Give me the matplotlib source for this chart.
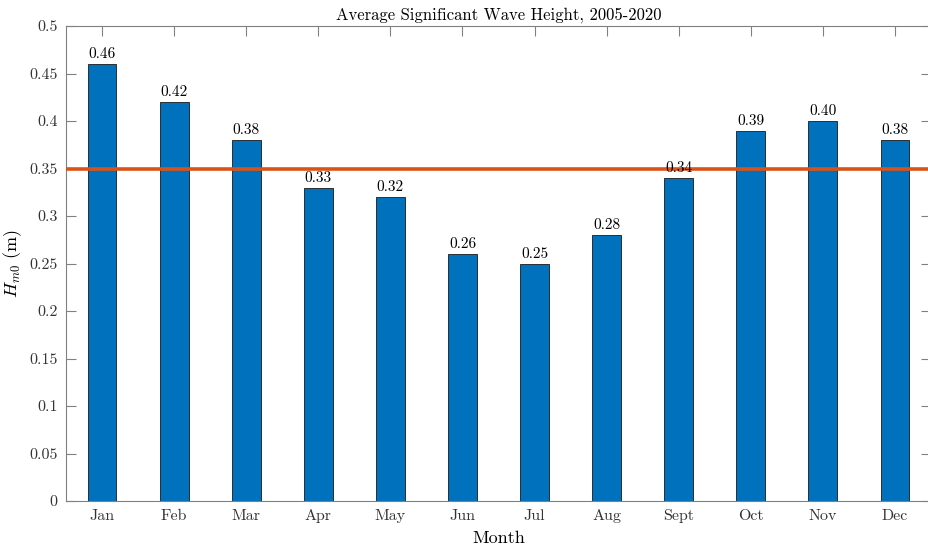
import matplotlib
matplotlib.use("Agg")
import matplotlib.pyplot as plt
import numpy as np

months = ["Jan", "Feb", "Mar", "Apr", "May", "Jun", "Jul", "Aug", "Sept", "Oct", "Nov", "Dec"]
hm0 = [0.46, 0.42, 0.38, 0.33, 0.32, 0.26, 0.25, 0.28, 0.34, 0.39, 0.40, 0.38]
mean_line = 0.35
yticks = [0, 0.05, 0.1, 0.15, 0.2, 0.25, 0.3, 0.35, 0.4, 0.45, 0.5]
ytick_labels = ["0", "0.05", "0.1", "0.15", "0.2", "0.25", "0.3", "0.35", "0.4", "0.45", "0.5"]

plt.rcParams["font.family"] = "serif"
plt.rcParams["font.serif"] = ["cmr10", "DejaVu Serif"]
plt.rcParams["mathtext.fontset"] = "cm"
plt.rcParams["axes.formatter.use_mathtext"] = True

W, H = 929, 547
fig = plt.figure(figsize=(W / 100, H / 100), dpi=100)
l, r, b, t = 66 / W, 931 / W, 1 - 501 / H, 1 - 26 / H
ax = fig.add_axes([l, b, r - l, t - b])

x = np.arange(1, len(months) + 1)
ax.bar(x, hm0, width=0.4, color="#0072BD", edgecolor="#1a1a1a", linewidth=0.6, zorder=2)
ax.axhline(mean_line, color="#D95319", linewidth=2.6, zorder=3)

for xi, v in zip(x, hm0):
    ax.text(xi, v + 0.003, f"{v:.2f}", ha="center", va="bottom", fontsize=11, color="#000000", zorder=4)

ax.set_xlim(0.5, 12.5)
ax.set_ylim(0, 0.5)
ax.set_xticks(x)
ax.set_xticklabels(months)
ax.set_yticks(yticks)
ax.set_yticklabels(ytick_labels)

for s in ax.spines.values():
    s.set_color("#808080")
    s.set_linewidth(0.8)
ax.tick_params(direction="in", length=7, width=0.8, color="#808080", labelsize=11.5,
               labelcolor="#333333", top=True, right=True, pad=6)

ax.set_title("Average Significant Wave Height, 2005-2020", fontsize=12, pad=5)
ax.set_xlabel("Month", fontsize=13, labelpad=5)
ax.set_ylabel(r"$H_{m0}$ (m)", fontsize=13, labelpad=4)

fig.savefig("out.png", dpi=100)
